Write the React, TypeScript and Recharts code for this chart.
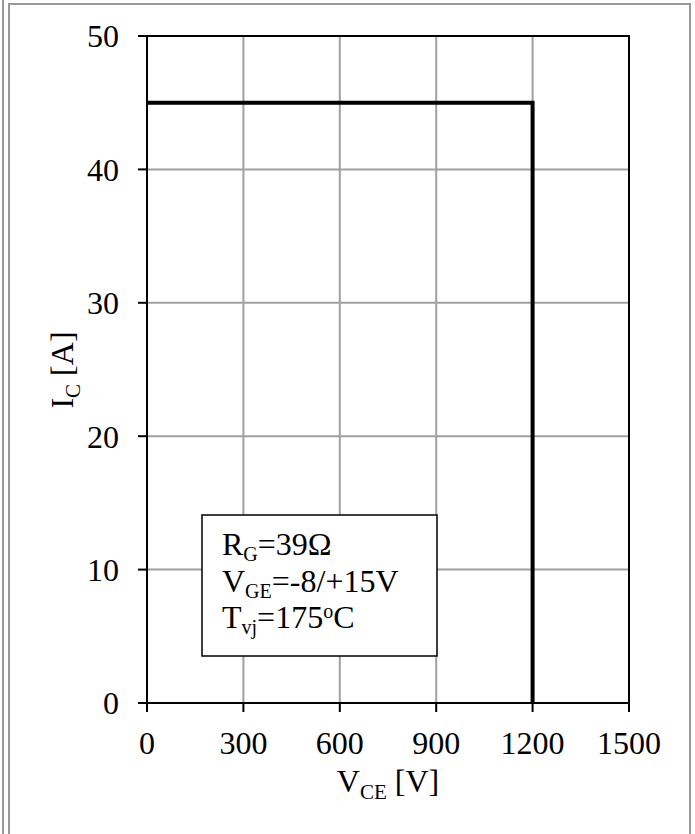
import React from 'react'
import {
  LineChart,
  Line,
  XAxis,
  YAxis,
  CartesianGrid,
  ReferenceArea,
} from 'recharts'

// RBSOA-style boundary: I_C vs V_CE
const vce = [0, 1200, 1200]
const ic = [45, 45, 0]

const xTicks = [0, 300, 600, 900, 1200, 1500]
const yTicks = [0, 10, 20, 30, 40, 50]

const data = vce.map((v, i) => ({ v, i: ic[i] }))

const FONT = '"Liberation Serif", "Times New Roman", serif'
const tickStyle = { fill: '#000', fontSize: 32, fontFamily: FONT }

export default function App() {
  return (
    <div style={{ position: 'absolute', left: 0, top: 0, width: 695, height: 834, background: '#fff' }}>
      {/* page frame */}
      <div style={{ position: 'absolute', left: 2, top: 0, width: 2, height: 834, background: '#999' }} />
      <div
        style={{
          position: 'absolute',
          left: 8,
          top: 3,
          width: 683,
          height: 840,
          border: '2px solid #999',
          boxSizing: 'border-box',
        }}
      />
      <LineChart
        width={695}
        height={834}
        data={data}
        margin={{ top: 36, right: 66, bottom: 0, left: 0 }}
        style={{ position: 'absolute', left: 0, top: 0 }}
      >
        <CartesianGrid stroke="#a0a0a0" strokeWidth={2} />
        <XAxis
          dataKey="v"
          type="number"
          domain={[0, 1500]}
          ticks={xTicks}
          height={131}
          tick={tickStyle}
          tickSize={9}
          tickMargin={19}
          axisLine={{ stroke: '#000', strokeWidth: 2 }}
          tickLine={{ stroke: '#000', strokeWidth: 2 }}
          interval={0}
        />
        <YAxis
          type="number"
          domain={[0, 50]}
          ticks={yTicks}
          width={147}
          tick={tickStyle}
          tickSize={9}
          tickMargin={19}
          axisLine={{ stroke: '#000', strokeWidth: 2 }}
          tickLine={{ stroke: '#000', strokeWidth: 2 }}
          interval={0}
        />
        <ReferenceArea
          x1={0}
          x2={1500}
          y1={0}
          y2={50}
          fill="none"
          stroke="#000"
          strokeWidth={2}
          ifOverflow="visible"
        />
        <Line
          dataKey="i"
          type="linear"
          stroke="#000"
          strokeWidth={4}
          dot={false}
          isAnimationActive={false}
        />
      </LineChart>
      <svg
        width={695}
        height={834}
        style={{ position: 'absolute', left: 0, top: 0, pointerEvents: 'none' }}
        fontFamily={FONT}
        fill="#000"
      >
        {/* annotation box */}
        <rect x={202} y={515} width={235} height={141} fill="#fff" stroke="#000" strokeWidth={1.5} />
        <text x={222} y={555} fontSize={32}>
          R<tspan fontSize={20} dy={6}>G</tspan>
          <tspan dy={-6}>=39Ω</tspan>
        </text>
        <text x={222} y={592} fontSize={32}>
          V<tspan fontSize={20} dy={6}>GE</tspan>
          <tspan dy={-6}>=-8/+15V</tspan>
        </text>
        <text x={222} y={628} fontSize={32}>
          T<tspan fontSize={20} dy={6}>vj</tspan>
          <tspan dy={-6}>=175</tspan>
          <tspan fontSize={20} dy={-10}>o</tspan>
          <tspan dy={10}>C</tspan>
        </text>
        {/* axis titles */}
        <text x={388} y={792} fontSize={32} textAnchor="middle">
          V<tspan fontSize={21} dy={7}>CE</tspan>
          <tspan dy={-7}> [V]</tspan>
        </text>
        <text x={73} y={370} fontSize={32} textAnchor="middle" transform="rotate(-90 73 370)">
          I<tspan fontSize={21} dy={7}>C</tspan>
          <tspan dy={-7}> [A]</tspan>
        </text>
      </svg>
    </div>
  )
}
